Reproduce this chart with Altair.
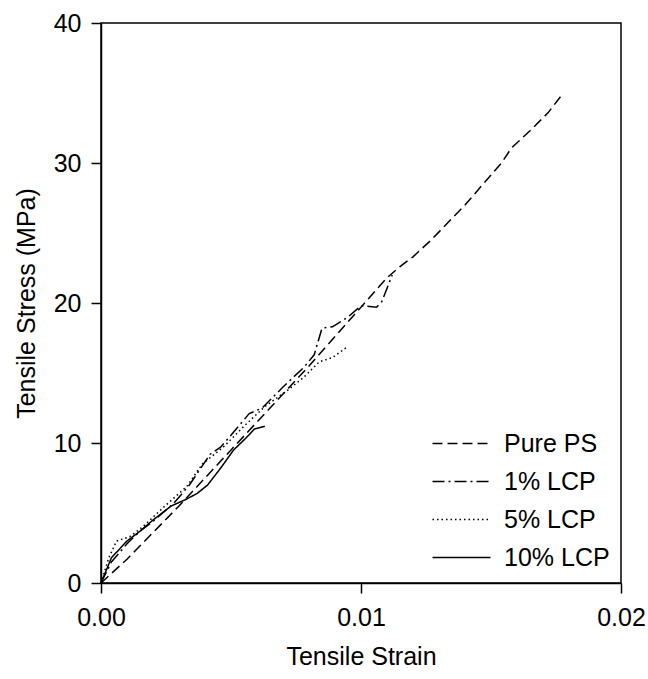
import altair as alt
import pandas as pd

series_names = ["Pure PS", "1% LCP", "5% LCP", "10% LCP"]

ps_strain = [0.0, 0.001, 0.002, 0.003, 0.004, 0.005, 0.006, 0.007, 0.008, 0.009, 0.010, 0.011,
             0.0115, 0.012, 0.0127, 0.014, 0.0154, 0.0158, 0.0165, 0.0172, 0.0177]
ps_stress = [0.0, 1.7, 3.6, 5.5, 7.5, 9.5, 11.5, 13.5, 15.5, 17.6, 19.7, 21.8,
             22.6, 23.3, 24.5, 27.0, 30.0, 31.1, 32.3, 33.6, 34.8]

lcp1_strain = [0.0, 0.0004, 0.001, 0.0015, 0.002, 0.0028, 0.0034, 0.0038, 0.0042, 0.0046, 0.0052,
               0.0057, 0.0062, 0.007, 0.0078, 0.0082, 0.0085, 0.0089, 0.0095, 0.0100, 0.0106,
               0.0108, 0.0112]
lcp1_stress = [0.0, 1.5, 2.8, 3.7, 4.4, 5.7, 7.0, 8.1, 9.2, 9.7, 11.0,
               12.1, 12.5, 14.0, 15.4, 16.3, 18.2, 18.3, 19.0, 19.8, 19.7,
               20.1, 22.0]

lcp5_strain = [0.0, 0.0003, 0.0006, 0.0011, 0.0016, 0.0024, 0.0033, 0.0039, 0.0047, 0.0055,
               0.0063, 0.0072, 0.0078, 0.0084, 0.0089, 0.0095]
lcp5_stress = [0.0, 1.8, 3.0, 3.3, 4.0, 5.4, 6.9, 8.5, 9.7, 11.2,
               12.6, 13.8, 14.7, 15.8, 16.1, 16.9]

lcp10_strain = [0.0, 0.0004, 0.001, 0.0015, 0.002, 0.0027, 0.0033, 0.0037, 0.0041, 0.0046,
                0.0051, 0.0056, 0.0059, 0.0063]
lcp10_stress = [0.0, 1.8, 3.0, 3.7, 4.5, 5.5, 6.0, 6.4, 7.0, 8.2,
                9.5, 10.4, 11.0, 11.2]

x_ticks = [0.0, 0.01, 0.02]
y_ticks = [0, 10, 20, 30, 40]

rows = []
for name, xs, ys in [("Pure PS", ps_strain, ps_stress),
                     ("1% LCP", lcp1_strain, lcp1_stress),
                     ("5% LCP", lcp5_strain, lcp5_stress),
                     ("10% LCP", lcp10_strain, lcp10_stress)]:
    for i, (a, b) in enumerate(zip(xs, ys)):
        rows.append({"series": name, "strain": a, "stress": b, "order": i})
df = pd.DataFrame(rows)

FONT = "Liberation Sans"

chart = alt.Chart(df).mark_line(color="black", strokeWidth=1.5).encode(
    x=alt.X("strain:Q",
            scale=alt.Scale(domain=[0, 0.02], nice=False, zero=False),
            axis=alt.Axis(values=x_ticks, format=".2f", title="Tensile Strain",
                          grid=False, tickSize=10, labelPadding=12, titlePadding=14,
                          labelFlush=False)),
    y=alt.Y("stress:Q",
            scale=alt.Scale(domain=[0, 40], nice=False),
            axis=alt.Axis(values=y_ticks, title="Tensile Stress (MPa)",
                          grid=False, tickSize=10, labelPadding=10, titlePadding=14,
                          labelFlush=False)),
    strokeDash=alt.StrokeDash(
        "series:N",
        scale=alt.Scale(domain=series_names,
                        range=[[10, 5], [12, 4, 2, 4], [1.5, 3], [1, 0]]),
        legend=alt.Legend(title=None, orient="none", legendX=348, legendY=408,
                          symbolType="M-2.9,0H2.9", symbolSize=400,
                          symbolStrokeColor="black", symbolStrokeWidth=1.5,
                          labelFontSize=25, labelFont=FONT, labelColor="black",
                          labelOffset=30, rowPadding=12, padding=0)),
    order="order:Q",
).properties(
    width=520, height=560,
    background="white",
    autosize=alt.AutoSizeParams(type="none"),
    padding={"left": 101, "top": 23, "right": 27, "bottom": 96},
).configure_view(
    stroke="black", strokeWidth=1.5
).configure_axis(
    domainColor="black", domainWidth=1.5, tickColor="black", tickWidth=1.5,
    labelFont=FONT, labelFontSize=25, labelColor="black",
    titleFont=FONT, titleFontSize=25, titleColor="black", titleFontWeight="normal",
)

chart.save("out.html", embed_options={"renderer": "svg", "actions": False})
